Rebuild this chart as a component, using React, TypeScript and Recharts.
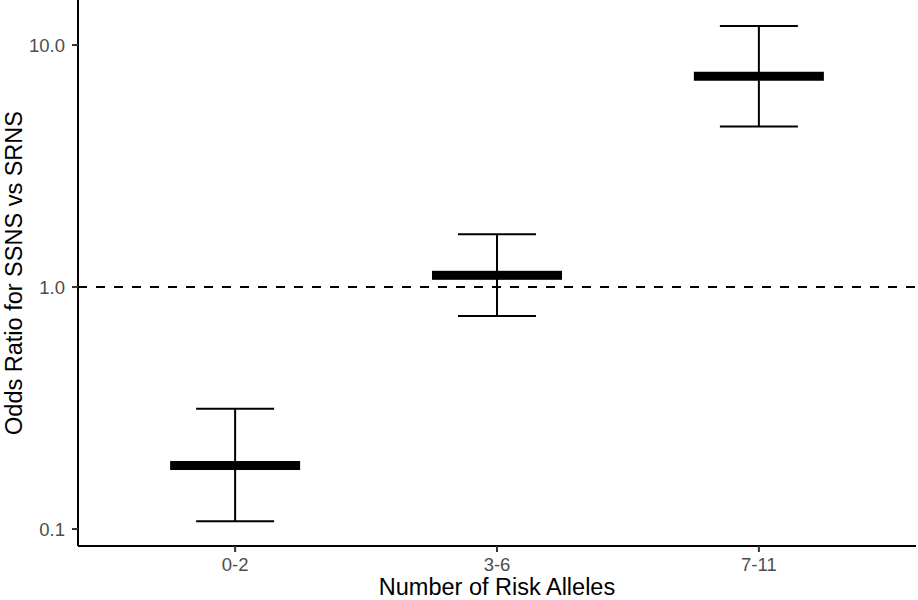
import {
  ComposedChart,
  ErrorBar,
  Label,
  ReferenceLine,
  Scatter,
  XAxis,
  YAxis,
} from "recharts";

const groups = ["0-2", "3-6", "7-11"];
const oddsRatio = [0.183, 1.118, 7.43];
const lowerCI = [0.1076, 0.759, 4.61];
const upperCI = [0.314, 1.651, 11.98];

const yTicks = [0.1, 1, 10];

const FONT = '"Liberation Sans", Arial, Helvetica, sans-serif';
const TICK_SIZE = 18.5;

const data = groups.map((name, i) => ({
  pos: i + 1,
  name,
  or: oddsRatio[i],
  ci: [oddsRatio[i] - lowerCI[i], upperCI[i] - oddsRatio[i]],
}));

function EstimateBar(props: any) {
  const { cx, cy } = props;
  if (cx == null || cy == null) return null;
  return <rect x={cx - 65} y={cy - 4.5} width={130} height={9} fill="#000" />;
}

function XTick(props: any) {
  const { x, y, payload } = props;
  return (
    <text
      x={x}
      y={y}
      dy="0.71em"
      textAnchor="middle"
      fontFamily={FONT}
      fontSize={TICK_SIZE}
      fill="#4d4d4d"
    >
      {groups[payload.value - 1] ?? ""}
    </text>
  );
}

function YTick(props: any) {
  const { x, y, payload } = props;
  return (
    <text
      x={x}
      y={y}
      dy="0.355em"
      textAnchor="end"
      fontFamily={FONT}
      fontSize={TICK_SIZE}
      fill="#4d4d4d"
    >
      {Number(payload.value).toFixed(1)}
    </text>
  );
}

function XTitle(props: any) {
  const vb = props.viewBox ?? { x: 78, y: 546, width: 838, height: 54 };
  const cx = vb.x + vb.width / 2;
  return (
    <text x={cx} y={595} textAnchor="middle" fontFamily={FONT} fontSize={23.5} fill="#000">
      Number of Risk Alleles
    </text>
  );
}

function YTitle(props: any) {
  const vb = props.viewBox ?? { x: 0, y: 0, width: 78, height: 546 };
  const cy = vb.y + vb.height / 2;
  const x = 21.5;
  return (
    <text
      x={x}
      y={cy}
      transform={`rotate(-90, ${x}, ${cy})`}
      textAnchor="middle"
      fontFamily={FONT}
      fontSize={23.5}
      fill="#000"
    >
      Odds Ratio for SSNS vs SRNS
    </text>
  );
}

export default function App() {
  return (
    <div style={{ position: "absolute", left: 0, top: 0, background: "#fff" }}>
      <ComposedChart
        width={918}
        height={600}
        data={data}
        margin={{ top: 0, right: 2, bottom: 0, left: 0 }}
        style={{ fontFamily: FONT }}
      >
        <XAxis
          dataKey="pos"
          type="number"
          domain={[0.4, 3.6]}
          ticks={[1, 2, 3]}
          height={54}
          axisLine={{ stroke: "#000", strokeWidth: 2 }}
          tickLine={{ stroke: "#333", strokeWidth: 2 }}
          tickSize={6}
          tickMargin={6}
          tick={<XTick />}
          allowDataOverflow
        >
          <Label content={(p: any) => <XTitle {...p} />} />
        </XAxis>
        <YAxis
          type="number"
          scale="log"
          domain={[0.0851, 15.35]}
          ticks={yTicks}
          width={78}
          axisLine={{ stroke: "#000", strokeWidth: 2 }}
          tickLine={{ stroke: "#333", strokeWidth: 2 }}
          tickSize={6}
          tickMargin={7}
          tick={<YTick />}
          allowDataOverflow
        >
          <Label content={(p: any) => <YTitle {...p} />} />
        </YAxis>
        <ReferenceLine y={1} stroke="#000" strokeWidth={2} strokeDasharray="9 9" />
        <Scatter dataKey="or" shape={EstimateBar} isAnimationActive={false}>
          <ErrorBar
            dataKey="ci"
            direction="y"
            width={39}
            stroke="#000"
            strokeWidth={2}
            isAnimationActive={false}
          />
        </Scatter>
      </ComposedChart>
    </div>
  );
}
